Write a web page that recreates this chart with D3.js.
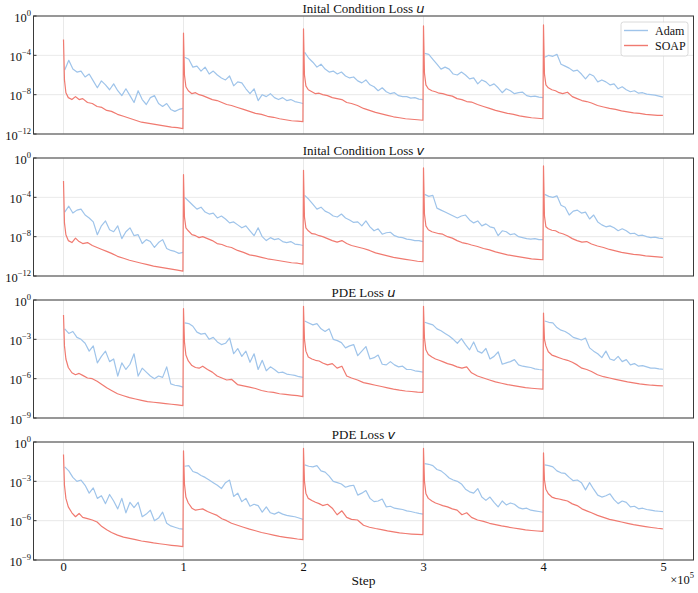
<!DOCTYPE html>
<html>
<head>
<meta charset="utf-8">
<script src="https://cdn.jsdelivr.net/npm/d3@7"></script>
<style>
body { margin: 0; background: #fff; }
</style>
</head>
<body>
<svg width="698" height="593"></svg>
<script>
// training restarts every 1e5 steps, 5 cycles
const steps_per_cycle = 100000;
const x_ticks = [0, 1, 2, 3, 4, 5];

// position inside a cycle (fraction of 1e5 steps) of each logged sample
const adam_frac = d3.range(30).map(i => 0.01 + i * 0.034);
const soap_frac = [0, 0.008, 0.02, 0.04, 0.07, 0.1, 0.13, 0.16, 0.2, 0.24, 0.28, 0.32, 0.36,
	0.4, 0.45, 0.5, 0.55, 0.6, 0.65, 0.7, 0.75, 0.8, 0.85, 0.9, 0.95, 0.995];

// all losses below are log10(loss), one row per cycle
const ic_u_adam = [
	[-5.5, -4.5, -5.4, -5.7, -5.6, -6.2, -5.9, -6.6, -7.3, -6.6, -7.0, -7.5, -6.9, -7.6, -8.1, -7.4, -8.1, -8.8, -7.6, -8.5, -9.0, -8.3, -8.1, -8.9, -9.2, -8.9, -9.5, -9.7, -9.5, -9.4],
	[-4.2, -4.4, -5.2, -5.1, -5.6, -5.2, -5.9, -5.6, -6.0, -6.3, -6.5, -6.1, -7.1, -6.7, -6.8, -7.4, -7.9, -7.4, -8.6, -8.0, -8.2, -7.9, -8.3, -8.5, -8.3, -8.6, -8.5, -8.7, -8.8, -8.9],
	[-3.7, -4.3, -4.7, -5.2, -4.9, -5.4, -5.7, -5.6, -5.9, -5.7, -6.1, -6.3, -6.2, -6.6, -6.8, -6.5, -7.0, -7.2, -7.6, -7.3, -7.7, -7.9, -7.8, -8.1, -8.2, -8.2, -8.35, -8.3, -8.45, -8.5],
	[-3.8, -3.9, -4.4, -4.9, -5.4, -5.2, -5.4, -5.9, -6.0, -5.7, -6.0, -6.4, -6.3, -6.9, -6.5, -6.7, -7.1, -6.9, -7.3, -7.8, -7.4, -7.6, -7.9, -7.8, -7.75, -8.1, -8.2, -8.15, -8.25, -8.3],
	[-4.2, -4.0, -4.1, -3.9, -4.9, -5.1, -5.3, -5.6, -5.5, -5.9, -6.4, -5.9, -6.1, -6.7, -6.5, -6.7, -7.0, -6.9, -7.4, -7.2, -7.5, -7.7, -7.6, -7.85, -7.8, -7.95, -8.0, -8.05, -8.15, -8.25]
];
const ic_u_soap = [
	[-2.4, -6.5, -7.8, -8.3, -8.5, -8.2, -8.5, -8.4, -8.8, -8.9, -9.2, -9.3, -9.6, -9.7, -10.0, -10.2, -10.4, -10.6, -10.8, -10.9, -11.0, -11.1, -11.2, -11.3, -11.35, -11.45],
	[-1.75, -6.0, -7.2, -7.6, -7.9, -7.8, -8.0, -8.1, -8.3, -8.5, -8.6, -8.8, -9.0, -9.1, -9.3, -9.5, -9.7, -9.9, -10.0, -10.2, -10.3, -10.45, -10.55, -10.65, -10.7, -10.75],
	[-1.3, -6.0, -7.1, -7.5, -7.7, -7.9, -7.85, -8.0, -8.1, -8.3, -8.4, -8.5, -8.8, -8.9, -9.1, -9.4, -9.6, -9.8, -9.95, -10.1, -10.25, -10.35, -10.45, -10.5, -10.55, -10.6],
	[-1.0, -5.8, -7.0, -7.4, -7.6, -7.7, -7.85, -7.9, -8.05, -8.15, -8.4, -8.5, -8.7, -8.75, -9.0, -9.2, -9.4, -9.6, -9.75, -9.9, -10.0, -10.15, -10.25, -10.35, -10.4, -10.45],
	[-0.9, -5.9, -7.0, -7.3, -7.5, -7.6, -7.8, -7.9, -7.75, -8.2, -8.4, -8.6, -8.7, -8.85, -9.1, -9.25, -9.4, -9.5, -9.65, -9.75, -9.85, -9.9, -10.0, -10.05, -10.1, -10.1]
];

const ic_v_adam = [
	[-5.5, -4.9, -5.6, -5.3, -5.2, -5.8, -6.1, -6.5, -7.8, -6.9, -6.4, -7.3, -7.5, -6.9, -8.2, -7.5, -7.1, -7.9, -7.8, -8.7, -8.3, -8.5, -9.1, -8.6, -8.3, -9.2, -9.4, -9.5, -9.7, -9.6],
	[-4.0, -4.4, -4.8, -5.2, -5.0, -5.5, -5.7, -5.6, -6.1, -5.9, -6.2, -6.6, -6.5, -6.8, -7.1, -6.9, -7.4, -7.9, -7.1, -8.0, -8.4, -8.1, -8.3, -8.2, -8.5, -8.6, -8.5, -8.75, -8.8, -8.9],
	[-3.8, -4.2, -4.7, -5.2, -5.0, -5.4, -5.6, -5.9, -6.0, -5.7, -6.1, -6.3, -6.55, -6.5, -6.9, -6.4, -7.0, -7.4, -7.2, -7.75, -7.6, -7.55, -7.9, -8.05, -8.1, -8.25, -8.3, -8.4, -8.4, -8.5],
	[-3.7, -3.9, -3.8, -5.1, -5.3, -5.5, -5.7, -5.9, -6.1, -5.9, -5.8, -6.3, -6.6, -6.4, -6.9, -6.7, -7.0, -7.1, -7.9, -7.4, -7.5, -7.8, -7.7, -8.0, -8.1, -8.2, -8.25, -8.2, -8.3, -8.3],
	[-3.7, -3.9, -4.0, -3.85, -4.8, -5.0, -5.8, -5.4, -5.3, -5.6, -5.5, -6.2, -5.8, -6.5, -6.8, -7.0, -6.9, -7.1, -7.4, -7.2, -7.4, -7.7, -7.65, -7.9, -7.85, -8.0, -8.1, -8.05, -8.15, -8.2]
];
const ic_v_soap = [
	[-2.35, -6.6, -7.8, -8.4, -8.6, -8.15, -8.5, -8.7, -8.6, -8.9, -9.1, -9.3, -9.5, -9.7, -10.0, -10.2, -10.4, -10.55, -10.7, -10.85, -11.0, -11.1, -11.2, -11.3, -11.4, -11.5],
	[-1.7, -6.0, -7.1, -7.4, -7.8, -7.9, -8.1, -8.0, -8.2, -8.4, -8.7, -8.8, -9.0, -9.1, -9.4, -9.6, -9.85, -9.95, -10.1, -10.25, -10.35, -10.45, -10.55, -10.65, -10.7, -10.8],
	[-1.25, -6.0, -7.1, -7.4, -7.7, -7.75, -7.9, -8.0, -8.2, -8.4, -8.55, -8.4, -8.7, -8.9, -9.05, -9.2, -9.4, -9.65, -9.8, -9.95, -10.1, -10.2, -10.3, -10.4, -10.5, -10.55],
	[-1.0, -5.7, -6.9, -7.3, -7.5, -7.6, -7.7, -7.75, -8.0, -8.15, -8.4, -8.6, -8.7, -8.85, -9.0, -9.2, -9.35, -9.55, -9.7, -9.85, -9.95, -10.05, -10.15, -10.25, -10.3, -10.35],
	[-0.8, -5.9, -7.0, -7.2, -7.35, -7.4, -7.6, -7.7, -7.9, -8.2, -8.4, -8.55, -8.5, -8.75, -8.95, -9.1, -9.3, -9.45, -9.6, -9.7, -9.8, -9.85, -9.95, -10.0, -10.05, -10.1]
];

const pde_u_adam = [
	[-2.2, -2.55, -2.4, -2.85, -3.0, -3.3, -3.9, -3.5, -4.8, -4.3, -3.9, -4.7, -4.5, -5.8, -4.8, -5.3, -4.9, -4.1, -5.8, -5.2, -5.5, -5.8, -6.0, -5.8, -5.9, -5.1, -6.4, -6.5, -6.55, -6.65],
	[-1.75, -1.8, -2.0, -2.45, -2.6, -2.55, -3.0, -2.85, -3.2, -3.4, -3.3, -2.9, -4.1, -3.7, -4.3, -3.9, -4.75, -4.1, -5.3, -4.6, -5.4, -5.1, -5.3, -5.55, -5.5, -5.65, -5.7, -5.75, -5.85, -5.9],
	[-1.6, -1.75, -1.9, -1.8, -2.2, -2.4, -2.2, -3.0, -3.1, -3.25, -3.65, -3.5, -3.4, -4.25, -3.9, -3.55, -4.5, -4.4, -4.2, -4.9, -4.95, -4.7, -4.95, -5.1, -5.05, -5.3, -5.3, -5.4, -5.45, -5.5],
	[-1.7, -1.8, -1.9, -2.2, -2.35, -2.55, -2.75, -3.0, -3.3, -2.95, -3.4, -3.8, -3.2, -3.9, -4.05, -3.7, -4.5, -4.3, -3.95, -4.9, -4.8, -4.7, -4.55, -4.95, -5.05, -5.1, -5.15, -5.25, -5.3, -5.33],
	[-1.6, -1.7, -1.75, -2.1, -2.3, -2.4, -2.6, -2.85, -2.95, -3.05, -2.9, -3.65, -3.9, -4.1, -4.4, -3.9, -4.5, -4.6, -4.3, -4.7, -4.55, -4.95, -4.85, -5.05, -5.0, -5.1, -5.2, -5.2, -5.25, -5.28]
];
const pde_u_soap = [
	[-1.15, -3.5, -4.5, -5.15, -5.55, -5.7, -5.6, -5.75, -5.95, -6.0, -6.2, -6.45, -6.7, -6.9, -7.15, -7.3, -7.45, -7.55, -7.65, -7.75, -7.8, -7.85, -7.9, -7.95, -8.0, -8.05],
	[-0.66, -3.2, -4.2, -4.65, -5.0, -5.15, -5.2, -5.05, -5.3, -5.5, -5.8, -5.95, -6.1, -6.05, -6.45, -6.55, -6.65, -6.75, -6.9, -7.0, -7.05, -7.15, -7.2, -7.25, -7.3, -7.37],
	[-0.48, -3.0, -3.9, -4.35, -4.5, -4.6, -4.65, -4.8, -4.95, -4.85, -5.2, -5.05, -5.8, -5.95, -6.1, -6.3, -6.4, -6.5, -6.6, -6.7, -6.8, -6.88, -6.94, -6.98, -7.02, -7.04],
	[-0.48, -2.9, -3.8, -4.15, -4.35, -4.5, -4.6, -4.7, -4.85, -4.95, -5.1, -5.2, -5.1, -5.55, -5.8, -5.95, -6.1, -6.25, -6.35, -6.45, -6.53, -6.6, -6.68, -6.73, -6.77, -6.8],
	[-1.0, -3.0, -3.5, -3.95, -4.2, -4.3, -4.4, -4.5, -4.6, -4.75, -4.95, -5.2, -5.3, -5.45, -5.7, -5.85, -5.95, -6.05, -6.15, -6.25, -6.32, -6.4, -6.45, -6.5, -6.53, -6.55]
];

const pde_v_adam = [
	[-1.9, -2.2, -2.7, -3.0, -2.9, -3.3, -3.9, -3.5, -4.3, -4.1, -4.7, -4.0, -4.5, -5.1, -4.3, -5.4, -4.6, -5.0, -4.6, -5.7, -5.5, -5.2, -6.0, -5.8, -5.35, -6.2, -6.4, -6.5, -6.6, -6.65],
	[-1.85, -1.8, -2.25, -2.35, -2.55, -2.7, -2.9, -3.1, -3.3, -3.55, -3.1, -2.9, -4.15, -3.9, -4.55, -4.3, -4.9, -4.75, -4.85, -5.35, -4.95, -5.4, -5.5, -5.35, -5.5, -5.6, -5.65, -5.7, -5.8, -5.9],
	[-1.75, -1.85, -1.9, -1.8, -2.2, -2.3, -2.6, -3.0, -3.1, -3.2, -3.45, -3.35, -3.3, -4.05, -3.9, -3.7, -4.3, -4.55, -4.5, -4.35, -4.95, -4.9, -5.05, -5.1, -5.15, -5.25, -5.3, -5.38, -5.45, -5.5],
	[-1.65, -1.7, -1.8, -2.1, -2.2, -2.45, -2.75, -2.9, -3.0, -3.2, -3.6, -3.8, -3.9, -3.55, -4.2, -4.45, -4.2, -4.6, -4.95, -4.5, -4.8, -4.65, -4.75, -5.0, -5.1, -5.05, -5.2, -5.25, -5.3, -5.36],
	[-1.75, -1.8, -1.9, -2.2, -2.35, -2.4, -2.7, -2.95, -2.9, -3.1, -3.65, -3.1, -3.6, -4.05, -4.2, -4.1, -3.95, -4.4, -4.7, -4.5, -4.6, -4.95, -4.9, -5.1, -5.05, -5.15, -5.2, -5.25, -5.28, -5.31]
];
const pde_v_soap = [
	[-0.95, -3.3, -4.3, -4.95, -5.4, -5.7, -5.45, -5.75, -5.85, -5.95, -6.1, -6.45, -6.7, -6.9, -7.1, -7.25, -7.35, -7.45, -7.55, -7.62, -7.7, -7.76, -7.82, -7.88, -7.93, -7.98],
	[-0.67, -3.2, -4.2, -4.65, -5.05, -5.2, -5.15, -5.1, -5.3, -5.45, -5.6, -5.85, -6.0, -6.2, -6.35, -6.5, -6.65, -6.77, -6.9, -7.0, -7.1, -7.2, -7.27, -7.33, -7.4, -7.45],
	[-0.49, -3.0, -3.9, -4.3, -4.46, -4.6, -4.7, -4.85, -4.75, -5.05, -5.55, -5.25, -5.75, -5.9, -5.95, -6.35, -6.5, -6.6, -6.68, -6.78, -6.86, -6.93, -6.98, -7.02, -7.05, -7.07],
	[-0.49, -3.0, -3.95, -4.3, -4.5, -4.65, -4.75, -4.85, -4.95, -5.1, -5.2, -5.55, -5.4, -5.75, -5.95, -6.05, -6.2, -6.3, -6.4, -6.48, -6.56, -6.63, -6.7, -6.75, -6.79, -6.82],
	[-0.82, -2.9, -3.6, -3.95, -4.2, -4.3, -4.35, -4.42, -4.5, -4.72, -4.85, -5.1, -5.25, -5.4, -5.6, -5.75, -5.9, -6.0, -6.1, -6.2, -6.3, -6.38, -6.45, -6.52, -6.58, -6.62]
];

const panels = [
	{ title: "Inital Condition Loss ", sym: "u", adam: ic_u_adam, soap: ic_u_soap, ticks: [0, -4, -8, -12] },
	{ title: "Inital Condition Loss ", sym: "v", adam: ic_v_adam, soap: ic_v_soap, ticks: [0, -4, -8, -12] },
	{ title: "PDE Loss ", sym: "u", adam: pde_u_adam, soap: pde_u_soap, ticks: [0, -3, -6, -9] },
	{ title: "PDE Loss ", sym: "v", adam: pde_v_adam, soap: pde_v_soap, ticks: [0, -3, -6, -9] }
];

const adam_color = "#9fc4ea";
const soap_color = "#f07a70";
const serif = "'Liberation Serif', 'Times New Roman', serif";

const svg = d3.select("svg");
const left = 33.5, right = 693.5;
const panel_top = [16, 158, 300, 442];
const panel_h = 118;

const x = d3.scaleLinear()
	.domain([-0.25 * steps_per_cycle, 5.25 * steps_per_cycle])
	.range([left, right]);

function to_points(fracs, cycles) {
	return cycles.map((vals, k) => vals.map((v, i) => [(k + fracs[i]) * steps_per_cycle, Math.pow(10, v)]));
}

panels.forEach(function(p, pi) {
	let top = panel_top[pi];
	let bottom = top + panel_h;
	let y = d3.scaleLog()
		.domain([Math.pow(10, d3.min(p.ticks)), 1])
		.range([bottom, top]);

	let g = svg.append("g");

	g.append("clipPath").attr("id", "clip" + pi)
		.append("rect")
		.attr("x", left).attr("y", top)
		.attr("width", right - left).attr("height", panel_h);

	// grid
	g.selectAll(".vgrid")
		.data(x_ticks)
		.enter()
		.append("line")
		.attr("x1", d => x(d * steps_per_cycle))
		.attr("x2", d => x(d * steps_per_cycle))
		.attr("y1", top).attr("y2", bottom)
		.attr("stroke", "#e3e3e3").attr("stroke-width", 0.8);
	g.selectAll(".hgrid")
		.data(p.ticks)
		.enter()
		.append("line")
		.attr("x1", left).attr("x2", right)
		.attr("y1", d => y(Math.pow(10, d)))
		.attr("y2", d => y(Math.pow(10, d)))
		.attr("stroke", "#e3e3e3").attr("stroke-width", 0.8);

	let line = d3.line()
		.x(d => x(d[0]))
		.y(d => y(d[1]));

	let lines = g.append("g").attr("clip-path", "url(#clip" + pi + ")");

	// Adam: one path per cycle
	lines.selectAll(".adam")
		.data(to_points(adam_frac, p.adam))
		.enter()
		.append("path")
		.attr("d", line)
		.attr("fill", "none")
		.attr("stroke", adam_color)
		.attr("stroke-width", 1.2)
		.attr("stroke-linejoin", "round");

	// SOAP: continuous, jumps back up at each restart
	lines.append("path")
		.attr("d", line(to_points(soap_frac, p.soap).flat()))
		.attr("fill", "none")
		.attr("stroke", soap_color)
		.attr("stroke-width", 1.2)
		.attr("stroke-linejoin", "round");

	// frame
	g.append("rect")
		.attr("x", left).attr("y", top)
		.attr("width", right - left).attr("height", panel_h)
		.attr("fill", "none")
		.attr("stroke", "#3a3a3a")
		.attr("stroke-width", 1);

	// y ticks
	g.selectAll(".ytick")
		.data(p.ticks)
		.enter()
		.append("line")
		.attr("x1", left).attr("x2", left + 3)
		.attr("y1", d => y(Math.pow(10, d)))
		.attr("y2", d => y(Math.pow(10, d)))
		.attr("stroke", "#3a3a3a");

	let ylab = g.selectAll(".ylab")
		.data(p.ticks)
		.enter()
		.append("text")
		.attr("x", 31)
		.attr("y", d => y(Math.pow(10, d)) + 5.5)
		.attr("text-anchor", "end")
		.style("font-family", serif)
		.style("font-size", "12.5px")
		.attr("fill", "#111");
	ylab.append("tspan").text("10");
	ylab.append("tspan")
		.attr("dy", -6)
		.style("font-size", "8.5px")
		.text(d => d === 0 ? "0" : "\u2212" + Math.abs(d));

	// title
	let t = g.append("text")
		.attr("x", (left + right) / 2)
		.attr("y", top - 3)
		.attr("text-anchor", "middle")
		.style("font-family", serif)
		.style("font-size", "13px")
		.attr("fill", "#111");
	t.append("tspan").text(p.title);
	t.append("tspan")
		.style("font-family", "'DejaVu Sans', sans-serif")
		.style("font-style", "italic")
		.style("font-size", "13px")
		.text(p.sym);

	if (pi === 0) {
		let lg = g.append("g");
		lg.append("rect")
			.attr("x", 621).attr("y", 22)
			.attr("width", 67).attr("height", 34)
			.attr("rx", 2.5)
			.attr("fill", "#fff").attr("fill-opacity", 0.85)
			.attr("stroke", "#d0d0d0").attr("stroke-width", 0.8);
		[["Adam", adam_color], ["SOAP", soap_color]].forEach(function(e, i) {
			let ly = 30.5 + i * 15;
			lg.append("line")
				.attr("x1", 624).attr("x2", 648)
				.attr("y1", ly).attr("y2", ly)
				.attr("stroke", e[1]).attr("stroke-width", 1.4);
			lg.append("text")
				.attr("x", 655).attr("y", ly + 4)
				.style("font-family", serif)
				.style("font-size", "12px")
				.attr("fill", "#111")
				.text(e[0]);
		});
	}

	if (pi === panels.length - 1) {
		g.selectAll(".xlab")
			.data(x_ticks)
			.enter()
			.append("text")
			.attr("x", d => x(d * steps_per_cycle))
			.attr("y", 571)
			.attr("text-anchor", "middle")
			.style("font-family", serif)
			.style("font-size", "12.5px")
			.attr("fill", "#111")
			.text(d => d);

		g.append("text")
			.attr("x", (left + right) / 2)
			.attr("y", 585)
			.attr("text-anchor", "middle")
			.style("font-family", serif)
			.style("font-size", "13.5px")
			.attr("fill", "#111")
			.text("Step");

		let m = g.append("text")
			.attr("x", 694)
			.attr("y", 584)
			.attr("text-anchor", "end")
			.style("font-family", serif)
			.style("font-size", "12.5px")
			.attr("fill", "#111");
		m.append("tspan").text("\u00d710");
		m.append("tspan").attr("dy", -6).style("font-size", "8.5px").text("5");
	}
});
</script>
</body>
</html>
